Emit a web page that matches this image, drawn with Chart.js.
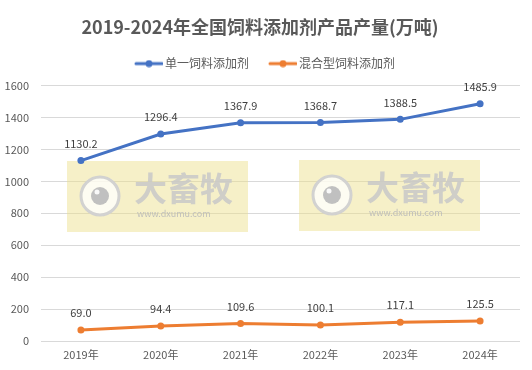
<!DOCTYPE html>
<html>
<head>
<meta charset="utf-8">
<script src="https://cdn.jsdelivr.net/npm/chart.js@4/dist/chart.umd.min.js"></script>
<style>
html,body{margin:0;padding:0;background:#fff;}
#wrap{width:532px;height:370px;position:relative;}
</style>
</head>
<body>
<div id="wrap"><canvas id="c" width="532" height="370"></canvas></div>
<script>
const categories = ["2019年","2020年","2021年","2022年","2023年","2024年"];
const singleAdditive = [1130.2, 1296.4, 1367.9, 1368.7, 1388.5, 1485.9];
const mixedAdditive = [69.0, 94.4, 109.6, 100.1, 117.1, 125.5];
const seriesNames = ["单一饲料添加剂","混合型饲料添加剂"];
const yTicks = [0,200,400,600,800,1000,1200,1400,1600];

const FONT = "'Noto Sans CJK SC','Microsoft YaHei',sans-serif";
const BLUE = "#4472C4", ORANGE = "#ED7D31";

function legendIcon(color){
  const cv = document.createElement('canvas');
  cv.width = 42; cv.height = 8;
  const g = cv.getContext('2d');
  g.strokeStyle = color; g.lineWidth = 3; g.lineCap='round';
  g.beginPath(); g.moveTo(15,4); g.lineTo(41,4); g.stroke();
  g.fillStyle = color; g.beginPath(); g.arc(28,4,3.5,0,Math.PI*2); g.fill();
  return cv;
}

const labelPlugin = {
  id:'valueLabels',
  afterDatasetsDraw(chart){
    const ctx = chart.ctx;
    ctx.save();
    ctx.font = "11px " + FONT;
    ctx.fillStyle = "#404040";
    ctx.textAlign = "center";
    ctx.textBaseline = "middle";
    chart.data.datasets.forEach((ds,i)=>{
      const meta = chart.getDatasetMeta(i);
      meta.data.forEach((pt,j)=>{
        ctx.fillText(ds.data[j].toFixed(1), pt.x, pt.y - 17);
      });
    });
    ctx.restore();
  }
};

const watermarkPlugin = {
  id:'watermark',
  beforeDatasetsDraw(chart){
    const ctx = chart.ctx;
    const boxes = [[67,161],[299,160]];
    ctx.save();
    boxes.forEach(([x,y])=>{
      ctx.fillStyle = "rgba(236,224,140,0.48)";
      ctx.fillRect(x,y,181,71);
      const cx = x+33, cy = y+35;
      ctx.fillStyle = "rgba(255,255,255,0.75)";
      ctx.beginPath(); ctx.arc(cx,cy,20,0,Math.PI*2); ctx.fill();
      ctx.strokeStyle = "rgba(205,205,205,0.9)"; ctx.lineWidth = 3;
      ctx.beginPath(); ctx.arc(cx,cy,19,0,Math.PI*2); ctx.stroke();
      ctx.fillStyle = "rgba(190,190,190,0.95)";
      ctx.beginPath(); ctx.arc(cx,cy,9,0,Math.PI*2); ctx.fill();
      ctx.fillStyle = "rgba(255,255,255,0.9)";
      ctx.beginPath(); ctx.arc(cx-3,cy-4,2.5,0,Math.PI*2); ctx.fill();
      ctx.fillStyle = "rgba(200,200,200,0.85)";
      ctx.font = "bold 33px " + FONT;
      ctx.textAlign = "left"; ctx.textBaseline = "middle";
      ctx.fillText("大畜牧", x+67, y+27);
      ctx.font = "9px " + FONT;
      ctx.fillStyle = "rgba(185,185,185,0.9)";
      ctx.fillText("www.dxumu.com", x+70, y+53);
    });
    ctx.restore();
  }
};

new Chart(document.getElementById('c'), {
  type:'line',
  data:{
    labels: categories,
    datasets:[
      {label: seriesNames[0], data: singleAdditive, borderColor: BLUE, backgroundColor: BLUE,
       borderWidth: 3, pointRadius: 3.5, pointBackgroundColor: BLUE, pointBorderWidth:0, tension:0},
      {label: seriesNames[1], data: mixedAdditive, borderColor: ORANGE, backgroundColor: ORANGE,
       borderWidth: 3, pointRadius: 3.5, pointBackgroundColor: ORANGE, pointBorderWidth:0, tension:0}
    ]
  },
  options:{
    responsive:false,
    animation:false,
    devicePixelRatio:1,
    layout:{padding:{left:0,right:12,top:0,bottom:0}},
    plugins:{
      title:{display:true, text:"2019-2024年全国饲料添加剂产品产量(万吨)",
        color:"#595959", font:{family:FONT, size:18, weight:'bold'}, padding:{top:16,bottom:10}},
      subtitle:{display:true, text:" ", weight:500, position:'top',
        font:{size:6, lineHeight:1}, padding:{top:0,bottom:0}},
      legend:{display:true, position:'top',
        labels:{color:"#595959", font:{family:FONT,size:12}, usePointStyle:true, pointStyleWidth:34, padding:10,
          generateLabels(chart){
            return chart.data.datasets.map((ds,i)=>({
              text: ds.label, fillStyle: ds.borderColor, strokeStyle: ds.borderColor,
              pointStyle: legendIcon(ds.borderColor), datasetIndex:i, hidden:false, lineWidth:0,
              fontColor:"#595959"
            }));
          }}},
      tooltip:{enabled:false}
    },
    scales:{
      x:{
        offset:true,
        grid:{display:false, drawTicks:false, offset:true},
        border:{display:false},
        ticks:{color:"#595959", font:{family:FONT,size:11}, padding:7},
        afterFit(s){ s.height = 29; }
      },
      y:{
        min:0, max:1600,
        afterBuildTicks(s){ s.ticks = yTicks.map(v=>({value:v})); },
        grid:{color:"#D9D9D9", drawTicks:false, lineWidth:1},
        border:{display:false},
        ticks:{color:"#595959", font:{family:FONT,size:11}, padding:12, callback:(v)=>String(v)},
        afterFit(s){ s.width = 41; }
      }
    }
  },
  plugins:[watermarkPlugin, labelPlugin]
});
</script>
</body>
</html>
